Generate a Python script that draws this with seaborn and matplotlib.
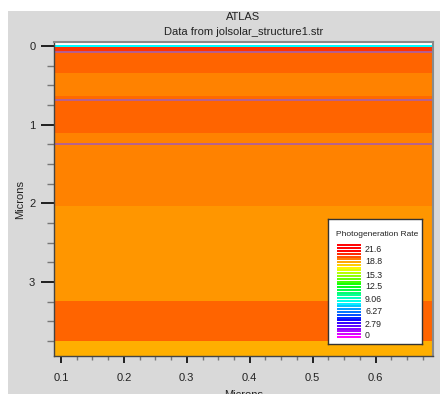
import numpy as np
import pandas as pd
import matplotlib
matplotlib.use("Agg")
import matplotlib.pyplot as plt
from matplotlib.colors import LinearSegmentedColormap, Normalize, hsv_to_rgb
from matplotlib.patches import Rectangle
from matplotlib.ticker import MultipleLocator
import seaborn as sns

# Layer stack: top/bottom depth (microns) and photogeneration rate (log scale)
layer_top = [-0.018, 0.008, 0.078, 0.34, 0.63, 0.70, 1.10, 2.03, 3.24, 3.75]
layer_bottom = [0.008, 0.078, 0.34, 0.63, 0.70, 1.10, 2.03, 3.24, 3.75, 3.95]
layer_rate = [8.6, 20.7, 19.9, 19.4, 19.75, 19.9, 19.4, 19.0, 19.9, 18.6]

# Material interfaces (microns)
interfaces = [0.078, 0.69, 1.25]

# Lateral extent of the device (microns)
x_min, x_max = 0.0889, 0.6914

# Legend contour levels and labelled values
rate_max = 21.6
n_levels = 32
legend_labels = ["21.6", "18.8", "15.3", "12.5", "9.06", "6.27", "2.79", "0"]
legend_values = [21.6, 18.8, 15.3, 12.5, 9.06, 6.27, 2.79, 0.0]

# Rainbow from magenta (low) to red (high)
hues = np.linspace(300, 0, 256) / 360.0
rgb = hsv_to_rgb(np.stack([hues, np.ones_like(hues), np.ones_like(hues)], axis=1))
cmap = LinearSegmentedColormap.from_list("atlas", rgb)
norm = Normalize(0, rate_max)

sns.set_style("ticks")
plt.rcParams["font.family"] = ["Liberation Sans", "DejaVu Sans"]

W, H = 440, 394
fig = plt.figure(figsize=(W / 100, H / 100), dpi=100)
fig.patch.set_facecolor("white")
fig.patches.append(Rectangle((8 / W, 0), 1 - 8 / W, 1 - 11 / H,
                             transform=fig.transFigure, facecolor="#d9d9d9",
                             edgecolor="none", zorder=-10))

ax = fig.add_axes([54 / W, 1 - 356 / H, (433 - 54) / W, (356 - 42) / H])
ax.set_facecolor("white")

# Each layer drawn as a one-cell mesh spanning the device width
for t, b, r in zip(layer_top, layer_bottom, layer_rate):
    ax.pcolormesh([x_min, x_max], [t, b], np.array([[r]]), cmap=cmap, norm=norm,
                  shading="flat")

iface = pd.DataFrame({
    "x": np.repeat([[x_min, x_max]], len(interfaces), axis=0).ravel(),
    "y": np.repeat(interfaces, 2),
    "id": np.repeat(np.arange(len(interfaces)), 2),
})
sns.lineplot(data=iface, x="x", y="y", units="id", estimator=None, ax=ax,
             color="#b0609c", lw=1.3, legend=False)

ax.set_xlim(x_min, x_max)
ax.set_ylim(3.94, -0.052)

ax.xaxis.set_minor_locator(MultipleLocator(0.025))
ax.yaxis.set_minor_locator(MultipleLocator(0.25))
ax.set_xticks([0.1, 0.2, 0.3, 0.4, 0.5, 0.6])
ax.set_xticklabels(["0.1", "0.2", "0.3", "0.4", "0.5", "0.6"])
ax.set_yticks([0, 1, 2, 3])
ax.set_yticklabels(["0", "1", "2", "3"])

ax.tick_params(axis="x", which="major", direction="out", length=5, width=1.2,
               color="black", labelsize=8, pad=7, labelcolor="#222222")
ax.tick_params(axis="x", which="minor", direction="out", length=3, width=1.0,
               color="#777777")
ax.tick_params(axis="y", which="major", direction="out", length=9.5, width=1.2,
               color="black", labelsize=8, pad=4, labelcolor="#222222")
ax.tick_params(axis="y", which="minor", direction="out", length=5, width=1.0,
               color="#777777")

for s in ["left", "bottom"]:
    ax.spines[s].set_color("#444444")
    ax.spines[s].set_linewidth(1.0)
for s in ["top", "right"]:
    ax.spines[s].set_color("#8a8a8a")
    ax.spines[s].set_linewidth(1.5)

ax.set_xlabel("Microns", fontsize=8, color="#222222", labelpad=5)
ax.set_ylabel("Microns", fontsize=8, color="#222222", labelpad=3)

fig.text(243.5 / W, 1 - 17 / H, "ATLAS", ha="center", va="center",
         fontsize=8, color="#222222")
fig.text(243.5 / W, 1 - 32 / H, "Data from jolsolar_structure1.str",
         ha="center", va="center", fontsize=8, color="#222222")

# Legend panel
lx0, lx1, ly0, ly1 = 328, 422, 219, 344
lax = fig.add_axes([lx0 / W, 1 - ly1 / H, (lx1 - lx0) / W, (ly1 - ly0) / H])
lax.set_xlim(lx0, lx1)
lax.set_ylim(ly1, ly0)
lax.set_xticks([])
lax.set_yticks([])
lax.set_facecolor("white")
for s in lax.spines.values():
    s.set_color("#333333")
    s.set_linewidth(1.0)

lax.text(336, 234, "Photogeneration Rate", fontsize=6.0, va="center",
         ha="left", color="#222222")

# Stacked level swatches, magenta at the bottom to red at the top
step = rate_max / (n_levels - 1)
px_per_unit = (336 - 250) / rate_max
for k in range(60):
    v = k * step
    y = 337 - v * px_per_unit
    if y < 243:
        break
    lax.plot([337, 361], [y, y], color=cmap(norm(min(v, rate_max))), lw=1.4,
             solid_capstyle="butt")

for lab, v in zip(legend_labels, legend_values):
    lax.text(365, 336 - v * px_per_unit, lab, fontsize=6.3, va="center",
             ha="left", color="#222222")

fig.savefig("out.png", dpi=100, facecolor=fig.get_facecolor())
